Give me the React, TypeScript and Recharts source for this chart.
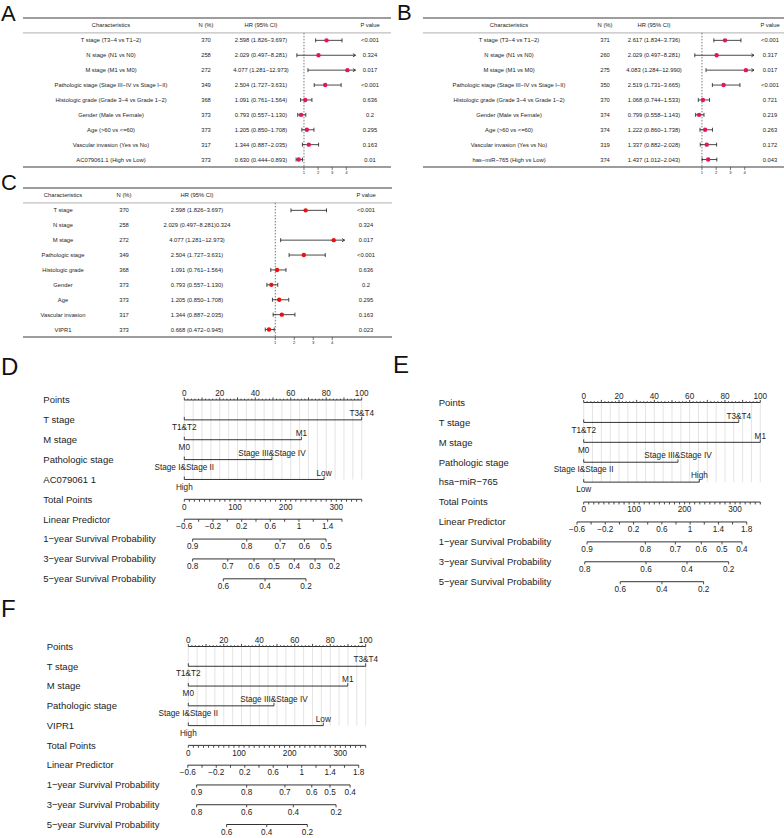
import { ScatterChart, Scatter, XAxis, YAxis, ReferenceLine } from 'recharts';

const FONT = '"Liberation Sans", Arial, Helvetica, sans-serif';
const INK = '#1c1c1c';

// ---------- A: model with AC079061.1 ----------
const aChars = [
  'T stage (T3−4 vs T1−2)',
  'N stage (N1 vs N0)',
  'M stage (M1 vs M0)',
  'Pathologic stage (Stage III−IV vs Stage I−II)',
  'Histologic grade (Grade 3−4 vs Grade 1−2)',
  'Gender (Male vs Female)',
  'Age (>60 vs <=60)',
  'Vascular invasion (Yes vs No)',
  'AC079061.1 (High vs Low)',
];
const aN = [370, 258, 272, 349, 368, 373, 373, 317, 373];
const aHr = [2.598, 2.029, 4.077, 2.504, 1.091, 0.793, 1.205, 1.344, 0.63];
const aLow = [1.826, 0.497, 1.281, 1.727, 0.761, 0.557, 0.85, 0.887, 0.444];
const aHigh = [3.697, 8.281, 12.973, 3.631, 1.564, 1.13, 1.708, 2.035, 0.893];
const aP = ['<0.001', '0.324', '0.017', '<0.001', '0.636', '0.2', '0.295', '0.163', '0.01'];

// ---------- B: model with hsa-miR-765 ----------
const bChars = [
  'T stage (T3−4 vs T1−2)',
  'N stage (N1 vs N0)',
  'M stage (M1 vs M0)',
  'Pathologic stage (Stage III−IV vs Stage I−II)',
  'Histologic grade (Grade 3−4 vs Grade 1−2)',
  'Gender (Male vs Female)',
  'Age (>60 vs <=60)',
  'Vascular invasion (Yes vs No)',
  'has−miR−765 (High vs Low)',
];
const bN = [371, 260, 275, 350, 370, 374, 374, 319, 374];
const bHr = [2.617, 2.029, 4.083, 2.519, 1.068, 0.799, 1.222, 1.337, 1.437];
const bLow = [1.834, 0.497, 1.284, 1.731, 0.744, 0.558, 0.86, 0.882, 1.012];
const bHigh = [3.736, 8.281, 12.99, 3.665, 1.533, 1.143, 1.738, 2.028, 2.043];
const bP = ['<0.001', '0.317', '0.017', '<0.001', '0.721', '0.219', '0.263', '0.172', '0.043'];

// ---------- C: model with VIPR1 ----------
const cChars = ['T stage', 'N stage', 'M stage', 'Pathologic stage', 'Histologic grade', 'Gender', 'Age', 'Vascular invasion', 'VIPR1'];
const cN = [370, 258, 272, 349, 368, 373, 373, 317, 373];
const cHr = [2.598, 2.029, 4.077, 2.504, 1.091, 0.793, 1.205, 1.344, 0.668];
const cLow = [1.826, 0.497, 1.281, 1.727, 0.761, 0.557, 0.85, 0.887, 0.472];
const cHigh = [3.697, 8.281, 12.973, 3.631, 1.564, 1.13, 1.708, 2.035, 0.945];
const cP = ['<0.001', '0.324', '0.017', '<0.001', '0.636', '0.2', '0.295', '0.163', '0.023'];
const cTail = ['', '0.324', '', '', '', '', '', '', ''];
const cHidden = [1]; // N stage row has no marker in the original

const HEADER = ['Characteristics', 'N (%)', 'HR (95% CI)', 'P value'];
const hrTicks = [1, 2, 3, 4];
const HR_MIN = 0.4;
const HR_MAX = 4.65;

// ---------- nomograms ----------
const pointTicks = Array.from({ length: 51 }, (_, i) => i * 2);
const TOTAL_MAX = 350;
const totalTicks = Array.from({ length: 36 }, (_, i) => i * 10);
const gridPts = Array.from({ length: 21 }, (_, i) => i * 5);

const dVars = ['T stage', 'M stage', 'Pathologic stage', 'AC079061 1'];
const dLevels = [['T1&T2', 'T3&T4'], ['M0', 'M1'], ['Stage I&Stage II', 'Stage III&Stage IV'], ['High', 'Low']];
const dLevelPts = [[0, 100], [0, 66], [0, 49.4], [0, 78.8]];
const dLp = [-0.6, -0.4, -0.2, 0, 0.2, 0.4, 0.6, 0.8, 1, 1.2, 1.4, 1.6];
const dLpPos: [number, number] = [0, 80.8]; // points position of lp -0.6 and 1.4
const dS1 = [0.9, 0.8, 0.7, 0.6, 0.5];
const dS1Pos = [4.7, 35.2, 54.0, 67.7, 79.9];
const dS3 = [0.8, 0.7, 0.6, 0.5, 0.4, 0.3, 0.2];
const dS3Pos = [4.7, 24.5, 39.3, 50.6, 62.0, 73.7, 84.6];
const dS5 = [0.6, 0.4, 0.2];
const dS5Pos = [22.0, 45.5, 68.6];

const eVars = ['T stage', 'M stage', 'Pathologic stage', 'hsa−miR−765'];
const eLevels = [['T1&T2', 'T3&T4'], ['M0', 'M1'], ['Stage I&Stage II', 'Stage III&Stage IV'], ['Low', 'High']];
const eLevelPts = [[0, 87.8], [0, 100], [0, 53.4], [0, 65.5]];
const eLp = [-0.6, -0.4, -0.2, 0, 0.2, 0.4, 0.6, 0.8, 1, 1.2, 1.4, 1.6, 1.8];
const eLpPos: [number, number] = [-3.8, 76.3];
const eS1 = [0.9, 0.8, 0.7, 0.6, 0.5, 0.4];
const eS1Pos = [1.9, 34.9, 51.9, 66.6, 78.3, 89.6];
const eS3 = [0.8, 0.6, 0.4, 0.2];
const eS3Pos = [0.6, 35.3, 58.5, 82.1];
const eS5 = [0.6, 0.4, 0.2];
const eS5Pos = [20.7, 44.3, 67.9];

const fVars = ['T stage', 'M stage', 'Pathologic stage', 'VIPR1'];
const fLevels = [['T1&T2', 'T3&T4'], ['M0', 'M1'], ['Stage I&Stage II', 'Stage III&Stage IV'], ['High', 'Low']];
const fLevelPts = [[0, 100], [0, 89.9], [0, 48.3], [0, 76.1]];
const fLp = [-0.6, -0.4, -0.2, 0, 0.2, 0.4, 0.6, 0.8, 1, 1.2, 1.4, 1.6, 1.8];
const fLpPos: [number, number] = [-0.3, 80.0];
const fS1 = [0.9, 0.8, 0.7, 0.6, 0.5, 0.4];
const fS1Pos = [4.7, 32.9, 54.5, 69.6, 79.9, 91.2];
const fS3 = [0.8, 0.6, 0.4, 0.2];
const fS3Pos = [4.7, 32.9, 59.2, 83.3];
const fS5 = [0.6, 0.4, 0.2];
const fS5Pos = [21.6, 44.2, 67.1];

const survNames = ['1−year Survival Probability', '3−year Survival Probability', '5−year Survival Probability'];

// ---------------------------------------------------------------

interface ForestProps {
  chars: string[];
  n: number[];
  hr: number[];
  low: number[];
  high: number[];
  p: string[];
  tail?: string[];
  hidden?: number[];
  cols: number[];
  rule: [number, number];
  plotLeft: number;
  plotRight: number;
  dot: string;
  left: number;
  top: number;
}

const ciEnd = (props: any) => {
  const { cx, cy, payload } = props;
  if (cx == null) return <g />;
  if (payload.end === 'arrow') {
    return <path d={`M${cx - 2.6},${cy - 1.6}L${cx},${cy}L${cx - 2.6},${cy + 1.6}`} stroke={INK} strokeWidth={0.8} fill="none" />;
  }
  return <line x1={cx} x2={cx} y1={cy - 2} y2={cy + 2} stroke={INK} strokeWidth={0.8} />;
};

function Forest(props: ForestProps) {
  const { chars, n, hr, low, high, p, tail, hidden = [], cols, rule, plotLeft, plotRight, dot, left, top } = props;
  const width = 392;
  const rows = chars.map((_, i) => i);
  const last = rows.length - 0.5;
  const yTicks = [-1.5, -1, -0.5, ...rows, last];
  const shown = rows.filter((i) => !hidden.includes(i));
  const f3 = (v: number) => v.toFixed(3);

  const rowTick = (tp: any) => {
    const y = tp.y;
    const v = tp.payload.value;
    if (v === -1.5 || v === last) {
      return <line x1={rule[0]} x2={rule[1]} y1={y} y2={y} stroke="#3c3c3c" strokeWidth={1.1} />;
    }
    if (v === -0.5) {
      return <line x1={rule[0]} x2={rule[1]} y1={y} y2={y} stroke="#7a7a7a" strokeWidth={0.6} />;
    }
    const cells =
      v === -1
        ? HEADER
        : [chars[v], String(n[v]), `${f3(hr[v])} (${f3(low[v])}−${f3(high[v])})${tail ? tail[v] : ''}`, p[v]];
    return (
      <g>
        {cells.map((c, k) => (
          <text key={k} x={cols[k]} y={y} dy="0.35em" textAnchor="middle" fontSize={5.8} fontFamily={FONT} fill={INK}>
            {c}
          </text>
        ))}
      </g>
    );
  };

  return (
    <div style={{ position: 'absolute', left, top }}>
      <ScatterChart width={width} height={185} margin={{ top: 18, right: width - plotRight, bottom: 6, left: 0 }}>
        <XAxis
          type="number"
          dataKey="hr"
          domain={[HR_MIN, HR_MAX]}
          ticks={hrTicks}
          interval={0}
          height={12}
          axisLine={false}
          tickSize={3}
          tickMargin={1}
          tickLine={{ stroke: INK, strokeWidth: 0.6 }}
          tick={{ fontSize: 4.2, fill: INK, fontFamily: FONT }}
        />
        <YAxis
          type="number"
          dataKey="row"
          domain={[-1.5, last]}
          reversed
          ticks={yTicks}
          interval={0}
          width={plotLeft}
          axisLine={false}
          tickLine={false}
          tick={rowTick}
        />
        <ReferenceLine
          segment={[{ x: 1, y: -0.5 }, { x: 1, y: last }]}
          stroke="#555"
          strokeWidth={0.8}
          strokeDasharray="1.5 1.5"
        />
        {shown.map((i) => (
          <Scatter
            key={`ci${i}`}
            data={[
              { hr: Math.max(low[i], HR_MIN), row: i, end: 'cap' },
              { hr: Math.min(high[i], HR_MAX), row: i, end: high[i] > HR_MAX ? 'arrow' : 'cap' },
            ]}
            line={{ stroke: INK, strokeWidth: 0.8 }}
            lineType="joint"
            shape={ciEnd}
            isAnimationActive={false}
          />
        ))}
        <Scatter
          data={shown.map((i) => ({ hr: hr[i], row: i }))}
          shape={(sp: any) => <circle cx={sp.cx} cy={sp.cy} r={2.2} fill={dot} />}
          isAnimationActive={false}
        />
      </ScatterChart>
    </div>
  );
}

// ---------------------------------------------------------------

interface NomoProps {
  vars: string[];
  levels: string[][];
  levelPts: number[][];
  lp: number[];
  lpPos: [number, number];
  surv: number[][];
  survPos: number[][];
  left: number;
  top: number;
  zeroPx: number;
  pxPerPt: number;
  row0: number;
  row9: number;
  labelX: number;
}

interface Mark {
  x: number;
  y: number;
  tick: number;
  text?: string;
  above?: boolean;
}

const fmtNum = (v: number) => String(Math.round(v * 10) / 10).replace('-', '−');

const nomoMark = (props: any) => {
  const { cx, cy, payload } = props;
  if (cx == null) return <g />;
  const m = payload as Mark;
  return (
    <g>
      <line x1={cx} x2={cx} y1={cy} y2={cy + m.tick} stroke={INK} strokeWidth={0.8} />
      {m.text ? (
        <text
          x={cx}
          y={m.above ? cy - 3.8 : cy + 10.2}
          textAnchor="middle"
          fontSize={8.2}
          fontFamily={FONT}
          fill={INK}
        >
          {m.text}
        </text>
      ) : null}
    </g>
  );
};

function Nomogram(props: NomoProps) {
  const { vars, levels, levelPts, lp, lpPos, surv, survPos, left, top, zeroPx, pxPerPt, row0, row9, labelX } = props;
  const width = 392;
  const height = row9 + 22;
  const plotLeft = zeroPx - 10 * pxPerPt;
  const plotRight = zeroPx + 110 * pxPerPt;
  const labels = ['Points', ...vars, 'Total Points', 'Linear Predictor', ...survNames];

  const rows: Mark[][] = [];
  rows.push(
    pointTicks.map((v) => ({
      x: v,
      y: 0,
      tick: v % 10 === 0 ? -2.6 : -1.3,
      text: v % 20 === 0 ? String(v) : undefined,
      above: true,
    })),
  );
  levels.forEach((lv, j) =>
    rows.push(lv.map((name, k) => ({ x: levelPts[j][k], y: j + 1, tick: -3, text: name, above: k > 0 }))),
  );
  rows.push(
    totalTicks.map((v) => ({
      x: (v / TOTAL_MAX) * 100,
      y: 5,
      tick: 2.4,
      text: v % 100 === 0 ? String(v) : undefined,
    })),
  );
  const lpScale = (lpPos[1] - lpPos[0]) / 2; // points per unit of linear predictor (-0.6 -> 1.4)
  rows.push(
    lp.map((v, k) => ({
      x: lpPos[0] + (v - lp[0]) * lpScale,
      y: 6,
      tick: 2.6,
      text: k % 2 === 0 ? fmtNum(v) : undefined,
    })),
  );
  surv.forEach((vals, j) =>
    rows.push(vals.map((v, k) => ({ x: survPos[j][k], y: 7 + j, tick: 2.6, text: String(v) }))),
  );

  const labelTick = (tp: any) => (
    <text x={labelX} y={tp.y} dy="0.35em" fontSize={9.5} fontFamily={FONT} fill={INK}>
      {labels[tp.payload.value]}
    </text>
  );

  return (
    <div style={{ position: 'absolute', left, top }}>
      <ScatterChart width={width} height={height} margin={{ top: row0, right: width - plotRight, bottom: height - row9, left: 0 }}>
        <XAxis type="number" dataKey="x" domain={[-10, 110]} hide />
        <YAxis
          type="number"
          dataKey="y"
          domain={[0, 9]}
          reversed
          ticks={[0, 1, 2, 3, 4, 5, 6, 7, 8, 9]}
          interval={0}
          width={plotLeft}
          axisLine={false}
          tickLine={false}
          tick={labelTick}
        />
        {gridPts.map((g) => (
          <ReferenceLine key={`g${g}`} segment={[{ x: g, y: 0 }, { x: g, y: 4 }]} stroke="#d2d2d2" strokeWidth={0.6} />
        ))}
        {rows.map((r, i) => (
          <Scatter
            key={`r${i}`}
            data={r}
            line={{ stroke: INK, strokeWidth: 0.9 }}
            lineType="joint"
            shape={nomoMark}
            isAnimationActive={false}
          />
        ))}
      </ScatterChart>
    </div>
  );
}

// ---------------------------------------------------------------

const panelLetters = [
  { t: 'A', x: 1, y: 21, s: 22 },
  { t: 'B', x: 397, y: 20, s: 22 },
  { t: 'C', x: 1, y: 190, s: 22 },
  { t: 'D', x: 1, y: 375, s: 24 },
  { t: 'E', x: 393, y: 373, s: 24 },
  { t: 'F', x: 1, y: 617, s: 24 },
];

export default function App() {
  return (
    <div style={{ position: 'absolute', left: 0, top: 0, width: 784, height: 838, background: '#fff', overflow: 'hidden' }}>
      <Forest
        chars={aChars} n={aN} hr={aHr} low={aLow} high={aHigh} p={aP}
        cols={[111, 206, 261, 370]} rule={[23, 391]}
        plotLeft={295.5} plotRight={355.5} dot="#e3165b" left={0} top={0}
      />
      <Forest
        chars={bChars} n={bN} hr={bHr} low={bLow} high={bHigh} p={bP}
        cols={[117, 213, 262, 378]} rule={[31, 392]}
        plotLeft={301.4} plotRight={362} dot="#e3165b" left={392} top={0}
      />
      <Forest
        chars={cChars} n={cN} hr={cHr} low={cLow} high={cHigh} p={cP} tail={cTail} hidden={cHidden}
        cols={[63, 124, 197, 366]} rule={[23, 392]}
        plotLeft={263.9} plotRight={344.6} dot="#f00f0f" left={0} top={170}
      />
      <Nomogram
        vars={dVars} levels={dLevels} levelPts={dLevelPts} lp={dLp} lpPos={dLpPos}
        surv={[dS1, dS3, dS5]} survPos={[dS1Pos, dS3Pos, dS5Pos]}
        left={0} top={340} zeroPx={184.3} pxPerPt={1.774} row0={60} row9={238.8} labelX={43.3}
      />
      <Nomogram
        vars={eVars} levels={eLevels} levelPts={eLevelPts} lp={eLp} lpPos={eLpPos}
        surv={[eS1, eS3, eS5]} survPos={[eS1Pos, eS3Pos, eS5Pos]}
        left={392} top={340} zeroPx={191.7} pxPerPt={1.766} row0={62.5} row9={241.7} labelX={46.7}
      />
      <Nomogram
        vars={fVars} levels={fLevels} levelPts={fLevelPts} lp={fLp} lpPos={fLpPos}
        surv={[fS1, fS3, fS5]} survPos={[fS1Pos, fS3Pos, fS5Pos]}
        left={0} top={600} zeroPx={188.3} pxPerPt={1.774} row0={46.5} row9={224.5} labelX={46.7}
      />
      <svg width={784} height={838} style={{ position: 'absolute', left: 0, top: 0, pointerEvents: 'none' }}>
        {panelLetters.map((l) => (
          <text key={l.t} x={l.x} y={l.y} fontSize={l.s} fontFamily={FONT} fill="#111">
            {l.t}
          </text>
        ))}
      </svg>
    </div>
  );
}
